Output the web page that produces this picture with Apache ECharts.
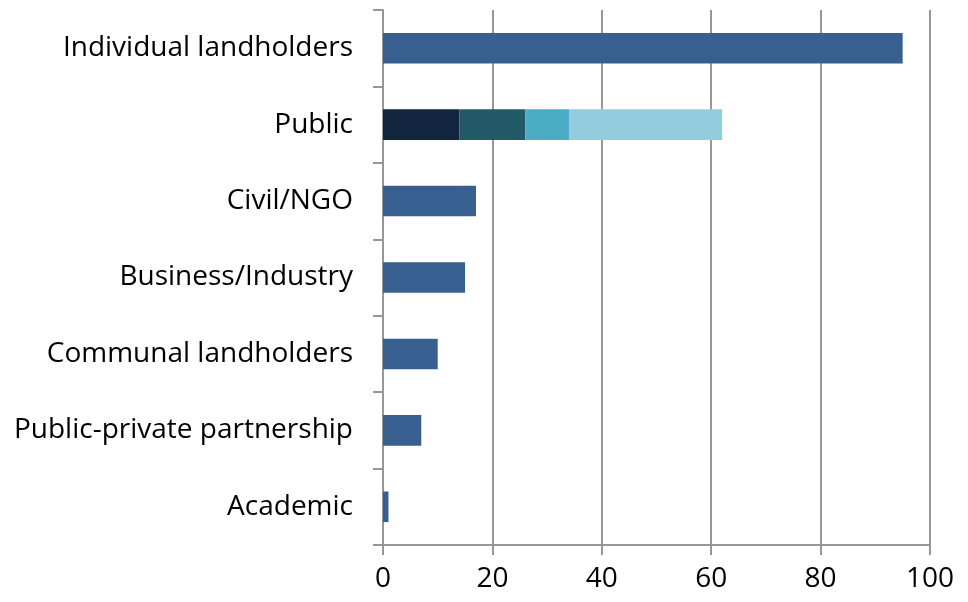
<!DOCTYPE html>
<html>
<head>
<meta charset="utf-8">
<script src="https://cdn.jsdelivr.net/npm/echarts@6/dist/echarts.min.js"></script>
<style>
  html, body { margin: 0; padding: 0; background: #fff; }
  #chart { width: 968px; height: 602px; }
</style>
</head>
<body>
<div id="chart"></div>
<script>
  const categories = ['Individual landholders', 'Public', 'Civil/NGO', 'Business/Industry',
    'Communal landholders', 'Public-private partnership', 'Academic']
  // single-colour bars (Public is split into parts below)
  const mainValues = [95, null, 17, 15, 10, 7, 1]
  // Public bar, segments left to right
  const publicParts = [14, 12, 8, 28]
  const publicColors = ['#12263F', '#215967', '#4BACC6', '#93CDDD']
  const xTicks = [0, 20, 40, 60, 80, 100]

  const chart = echarts.init(document.getElementById('chart'))
  const font = 'Open Sans, Liberation Sans, sans-serif'
  const axisGrey = '#979797'

  const series = [{
    name: 'main',
    type: 'bar',
    stack: 'total',
    barWidth: '40%',
    data: mainValues,
    itemStyle: { color: '#375F8F' },
    silent: true
  }]
  publicParts.forEach((v, i) => {
    const data = categories.map(c => (c === 'Public' ? v : null))
    series.push({
      name: 'public' + i,
      type: 'bar',
      stack: 'total',
      barWidth: '40%',
      data: data,
      itemStyle: { color: publicColors[i] },
      silent: true
    })
  })

  chart.setOption({
    animation: false,
    grid: { left: 383, right: 38, top: 10, bottom: 57, containLabel: false },
    xAxis: {
      type: 'value',
      min: xTicks[0],
      max: xTicks[xTicks.length - 1],
      interval: 20,
      axisLine: { show: true, lineStyle: { color: axisGrey, width: 2 } },
      axisTick: { show: true, length: 10, lineStyle: { color: axisGrey, width: 2 } },
      splitLine: { show: true, lineStyle: { color: axisGrey, width: 2 } },
      axisLabel: { color: '#000', fontSize: 28, fontFamily: font, margin: 20 }
    },
    yAxis: {
      type: 'category',
      inverse: true,
      data: categories,
      axisLine: { show: true, lineStyle: { color: axisGrey, width: 2 } },
      axisTick: { show: true, length: 10, lineStyle: { color: axisGrey, width: 2 } },
      axisLabel: { color: '#000', fontSize: 28, fontFamily: font, margin: 30 }
    },
    series: series
  })
</script>
</body>
</html>
